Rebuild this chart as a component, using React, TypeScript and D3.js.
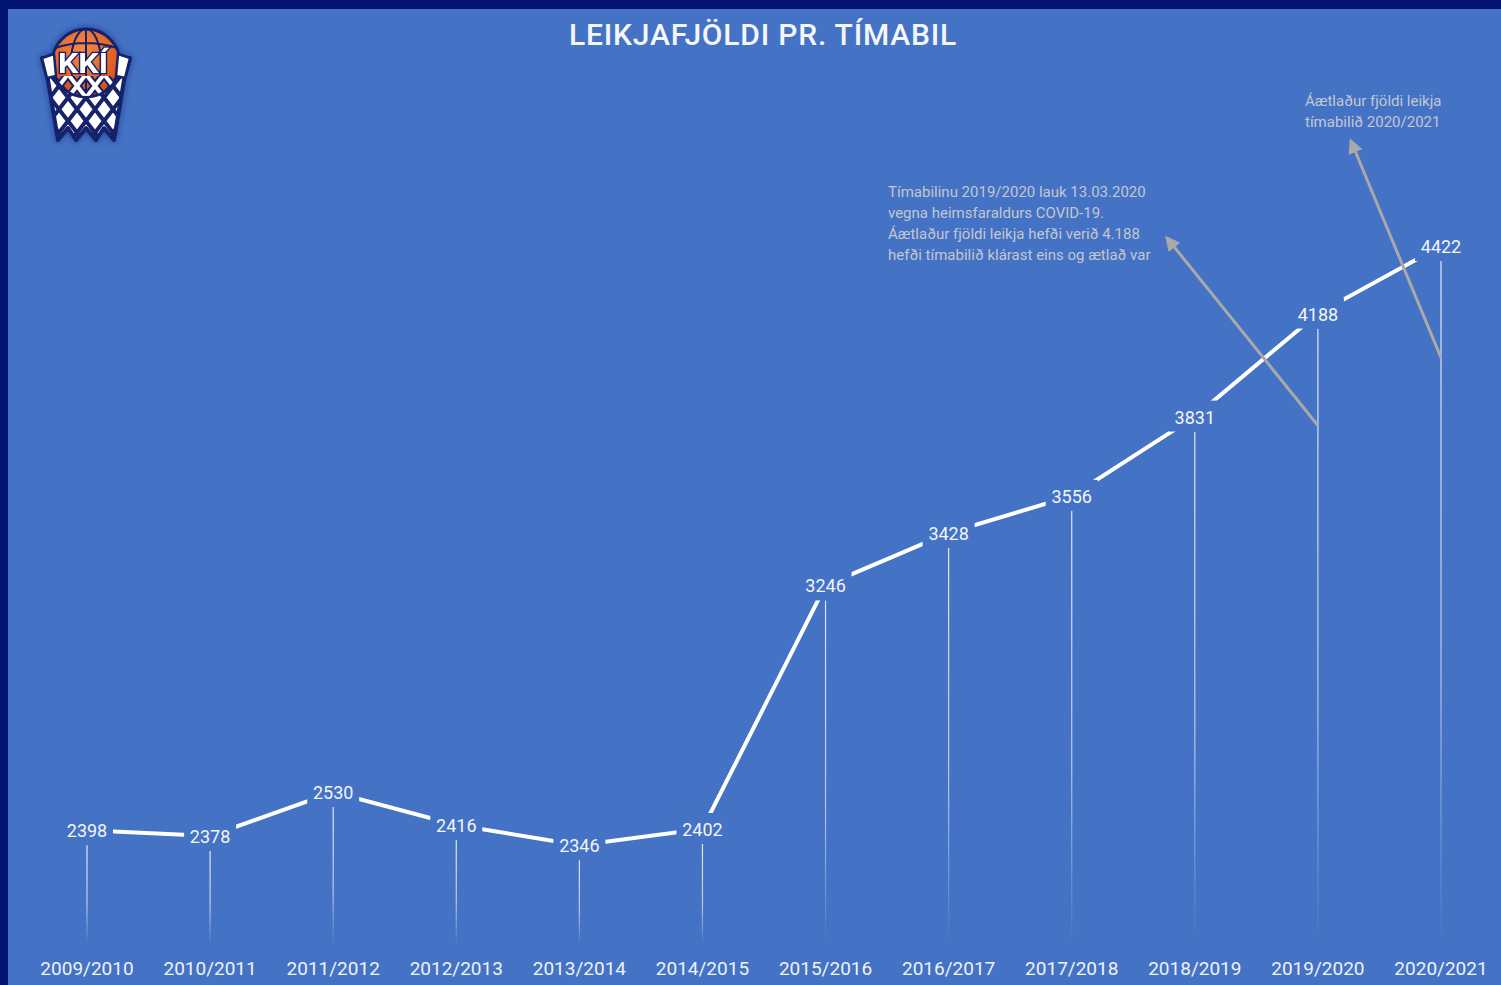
import { useEffect, useRef } from 'react';
import * as d3 from 'd3';

const seasons = [
  '2009/2010',
  '2010/2011',
  '2011/2012',
  '2012/2013',
  '2013/2014',
  '2014/2015',
  '2015/2016',
  '2016/2017',
  '2017/2018',
  '2018/2019',
  '2019/2020',
  '2020/2021'
];
const gameCounts = [2398, 2378, 2530, 2416, 2346, 2402, 3246, 3428, 3556, 3831, 4188, 4422];

const title = 'LEIKJAFJÖLDI PR. TÍMABIL';
const covidNote = [
  'Tímabilinu 2019/2020 lauk 13.03.2020',
  'vegna heimsfaraldurs COVID-19.',
  'Áætlaður fjöldi leikja hefði verið 4.188',
  'hefði tímabilið klárast eins og ætlað var'
];
const estimateNote = ['Áætlaður fjöldi leikja', 'tímabilið 2020/2021'];

const WIDTH = 1501;
const HEIGHT = 985;
const BG = '#4472C4';
const NAVY = '#001272';
const FONT = 'Roboto, "DejaVu Sans", sans-serif';

export default function App() {
  const svgRef = useRef<SVGSVGElement>(null);

  useEffect(() => {
    if (!svgRef.current) return;
    const svg = d3.select(svgRef.current);
    svg.selectAll('*').remove();

    const defs = svg.append('defs');

    // frame
    svg.append('rect').attr('width', WIDTH).attr('height', HEIGHT).attr('fill', NAVY);
    svg.append('rect').attr('x', 8).attr('y', 9).attr('width', WIDTH - 8).attr('height', HEIGHT - 9).attr('fill', BG);

    drawLogo(svg, defs);

    svg
      .append('text')
      .attr('x', 763)
      .attr('y', 45)
      .attr('text-anchor', 'middle')
      .attr('fill', '#f4f6fb')
      .attr('font-family', FONT)
      .attr('font-weight', 500)
      .attr('font-size', 30)
      .attr('letter-spacing', 0.8)
      .text(title);

    const x = d3.scalePoint<string>().domain(seasons).range([87, 1441]);
    const y = d3.scaleLinear().domain([2000, 4500]).range([945, 223.5]);

    const points = seasons.map((s, i) => ({ season: s, value: gameCounts[i] }));

    // fading drop lines
    const fade = defs
      .append('linearGradient')
      .attr('id', 'dropFade')
      .attr('x1', 0)
      .attr('y1', 0)
      .attr('x2', 0)
      .attr('y2', 1);
    fade.append('stop').attr('offset', '0').attr('stop-color', '#fff').attr('stop-opacity', 0.85);
    fade.append('stop').attr('offset', '0.6').attr('stop-color', '#fff').attr('stop-opacity', 0.6);
    fade.append('stop').attr('offset', '1').attr('stop-color', '#fff').attr('stop-opacity', 0);

    svg
      .append('g')
      .selectAll('rect')
      .data(points)
      .enter()
      .append('rect')
      .attr('x', (d) => x(d.season)! - 0.6)
      .attr('y', (d) => y(d.value) + 15)
      .attr('width', 1.2)
      .attr('height', (d) => 945 - (y(d.value) + 15))
      .attr('fill', 'url(#dropFade)');

    const line = d3
      .line<{ season: string; value: number }>()
      .x((d) => x(d.season)!)
      .y((d) => y(d.value));

    svg
      .append('path')
      .attr('d', line(points))
      .attr('fill', 'none')
      .attr('stroke', '#fff')
      .attr('stroke-width', 4);

    // gaps around the value labels
    svg
      .append('g')
      .selectAll('rect')
      .data(points)
      .enter()
      .append('rect')
      .attr('x', (d) => x(d.season)! - 26)
      .attr('y', (d) => y(d.value) - 16)
      .attr('width', 52)
      .attr('height', 31)
      .attr('fill', BG);

    svg
      .append('g')
      .selectAll('text')
      .data(points)
      .enter()
      .append('text')
      .attr('x', (d) => x(d.season)!)
      .attr('y', (d) => y(d.value) + 7)
      .attr('text-anchor', 'middle')
      .attr('fill', '#f2f5fb')
      .attr('font-family', FONT)
      .attr('font-size', 18)
      .text((d) => d.value);

    svg
      .append('g')
      .selectAll('text')
      .data(seasons)
      .enter()
      .append('text')
      .attr('x', (d) => x(d)!)
      .attr('y', 975)
      .attr('text-anchor', 'middle')
      .attr('fill', '#eef2fa')
      .attr('font-family', FONT)
      .attr('font-size', 19)
      .text((d) => d);

    // annotations
    defs
      .append('marker')
      .attr('id', 'arrowHead')
      .attr('viewBox', '0 0 10 10')
      .attr('refX', 8)
      .attr('refY', 5)
      .attr('markerWidth', 5)
      .attr('markerHeight', 5)
      .attr('orient', 'auto')
      .append('path')
      .attr('d', 'M0,0 L10,5 L0,10 Z')
      .attr('fill', '#a9a9a9');

    const arrows = [
      { from: [x('2019/2020')!, y(3800)], to: [1167, 238] },
      { from: [x('2020/2021')!, y(4035)], to: [1351, 141] }
    ];

    svg
      .append('g')
      .selectAll('line')
      .data(arrows)
      .enter()
      .append('line')
      .attr('x1', (d) => d.from[0])
      .attr('y1', (d) => d.from[1])
      .attr('x2', (d) => d.to[0])
      .attr('y2', (d) => d.to[1])
      .attr('stroke', '#a9a9a9')
      .attr('stroke-width', 3)
      .attr('marker-end', 'url(#arrowHead)');

    const noteText = (lines: string[], left: number, top: number) => {
      svg
        .append('g')
        .selectAll('text')
        .data(lines)
        .enter()
        .append('text')
        .attr('x', left)
        .attr('y', (_, i) => top + i * 21)
        .attr('fill', '#c3c7d0')
        .attr('font-family', FONT)
        .attr('font-size', 15)
        .text((d) => d);
    };
    noteText(covidNote, 888, 197);
    noteText(estimateNote, 1305, 106);
  }, []);

  return (
    <div style={{ position: 'fixed', left: 0, top: 0, width: WIDTH, height: HEIGHT }}>
      <svg ref={svgRef} width={WIDTH} height={HEIGHT} style={{ display: 'block' }} />
    </div>
  );
}

function drawLogo(
  svg: d3.Selection<SVGSVGElement, unknown, null, undefined>,
  defs: d3.Selection<SVGDefsElement, unknown, null, undefined>
) {
  const logoNavy = '#12206a';
  const ballGrad = defs
    .append('radialGradient')
    .attr('id', 'ballGrad')
    .attr('cx', '0.45')
    .attr('cy', '0.3')
    .attr('r', '0.75');
  ballGrad.append('stop').attr('offset', '0').attr('stop-color', '#f58a45');
  ballGrad.append('stop').attr('offset', '1').attr('stop-color', '#d8480f');

  const glow = defs
    .append('filter')
    .attr('id', 'logoGlow')
    .attr('x', '-30%')
    .attr('y', '-30%')
    .attr('width', '160%')
    .attr('height', '160%');
  glow
    .append('feDropShadow')
    .attr('dx', 0)
    .attr('dy', 0)
    .attr('stdDeviation', 3)
    .attr('flood-color', '#10206a')
    .attr('flood-opacity', 0.6);

  const cx = 86;
  const cy = 63;
  const r = 34;

  const netShape =
    'M42,58 L130,58 L124,80 L114,140 L104,128 L96,140 L86,128 L76,140 L68,128 L58,140 L48,80 Z';
  defs.append('clipPath').attr('id', 'netClip').append('path').attr('d', netShape);

  // lattice only below the rim
  const ballMask = defs.append('mask').attr('id', 'outsideBall');
  ballMask.append('rect').attr('x', 0).attr('y', 70).attr('width', 200).attr('height', 100).attr('fill', '#fff');
  ballMask.append('circle').attr('cx', cx).attr('cy', cy).attr('r', r - 1).attr('fill', '#000');
  const insideMask = defs.append('mask').attr('id', 'insideBall');
  insideMask.append('rect').attr('x', 0).attr('y', 0).attr('width', 200).attr('height', 200).attr('fill', '#000');
  insideMask.append('circle').attr('cx', cx).attr('cy', cy).attr('r', r - 1).attr('fill', '#fff');
  insideMask.append('rect').attr('x', 0).attr('y', 0).attr('width', 200).attr('height', 76).attr('fill', '#000');

  const g = svg.append('g').attr('filter', 'url(#logoGlow)');

  g.append('path')
    .attr('d', netShape)
    .attr('fill', '#fff')
    .attr('stroke', logoNavy)
    .attr('stroke-width', 4)
    .attr('stroke-linejoin', 'round');

  g.append('circle')
    .attr('cx', cx)
    .attr('cy', cy)
    .attr('r', r)
    .attr('fill', 'url(#ballGrad)')
    .attr('stroke', logoNavy)
    .attr('stroke-width', 3);
  g.append('ellipse')
    .attr('cx', cx)
    .attr('cy', cy)
    .attr('rx', 15)
    .attr('ry', r)
    .attr('fill', 'none')
    .attr('stroke', logoNavy)
    .attr('stroke-width', 2);
  g.append('path')
    .attr('d', `M${cx},${cy - r} L${cx},${cy + r} M55,48 Q86,38 117,48`)
    .attr('fill', 'none')
    .attr('stroke', logoNavy)
    .attr('stroke-width', 2);

  const step = 18;
  const diag = d3
    .range(-5, 6)
    .map(
      (k) =>
        `M${cx + k * step - 70},30 L${cx + k * step + 30},160 M${cx + k * step + 70},30 L${cx + k * step - 30},160`
    )
    .join(' ');

  const lattice = g.append('g').attr('clip-path', 'url(#netClip)');
  const outer = lattice.append('g').attr('mask', 'url(#outsideBall)');
  outer.append('path').attr('d', diag).attr('stroke', logoNavy).attr('stroke-width', 4).attr('fill', 'none');
  const inner = lattice.append('g').attr('mask', 'url(#insideBall)');
  inner.append('path').attr('d', diag).attr('stroke', logoNavy).attr('stroke-width', 8).attr('fill', 'none');
  inner.append('path').attr('d', diag).attr('stroke', '#fff').attr('stroke-width', 4).attr('fill', 'none');

  g.append('path')
    .attr('d', 'M42,58 L54,54 L56,76 L47,78 Z M130,58 L118,54 L116,76 L125,78 Z')
    .attr('fill', '#fff')
    .attr('stroke', logoNavy)
    .attr('stroke-width', 2.5)
    .attr('stroke-linejoin', 'round');

  g.append('text')
    .attr('x', 83)
    .attr('y', 73)
    .attr('text-anchor', 'middle')
    .attr('font-family', FONT)
    .attr('font-weight', 700)
    .attr('font-size', 28)
    .attr('textLength', 50)
    .attr('lengthAdjust', 'spacingAndGlyphs')
    .attr('fill', '#fff')
    .attr('stroke', logoNavy)
    .attr('stroke-width', 2.5)
    .attr('paint-order', 'stroke')
    .text('KKÍ');
}
